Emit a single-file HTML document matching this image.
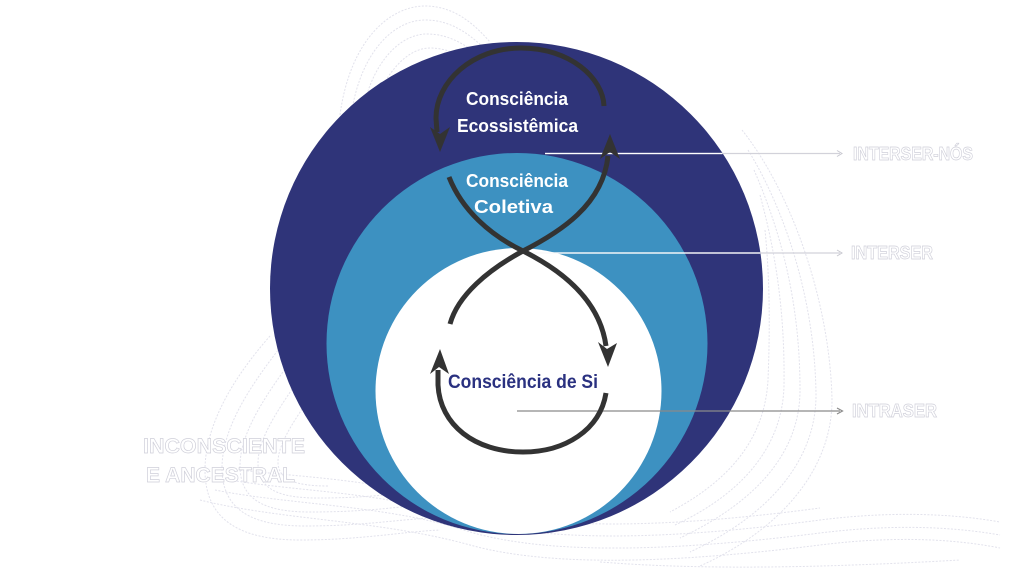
<!DOCTYPE html>
<html>
<head>
<meta charset="utf-8">
<style>
  html,body{margin:0;padding:0;background:#ffffff;}
  svg{display:block;}
  .lbl{font-family:"Liberation Sans",sans-serif;font-weight:bold;fill:#ffffff;stroke:#d0d0da;stroke-width:0.7;}
  .in{font-family:"Liberation Sans",sans-serif;font-weight:bold;fill:#ffffff;}
  .bg{fill:none;stroke:#e2e2ec;stroke-width:1;stroke-dasharray:2 1.5;}
</style>
</head>
<body>
<svg width="1024" height="576" viewBox="0 0 1024 576" xmlns="http://www.w3.org/2000/svg">
  <!-- faint background contour lines -->
  <g class="bg">
    <path d="M340,115 C350,40 390,6 425,6 C455,6 475,25 490,42"/>
    <path d="M352,110 C362,50 395,20 425,20 C452,20 470,35 484,48"/>
    <path d="M364,105 C374,62 400,34 427,34 C450,34 466,46 478,54"/>
    <path d="M376,100 C386,75 406,48 430,48 C448,48 460,56 470,60"/>
    <path d="M742,130 C790,190 830,300 832,400 C832,470 780,530 700,566"/>
    <path d="M748,150 C785,210 815,300 816,395 C816,460 770,515 690,552"/>
    <path d="M754,170 C780,230 800,300 800,390 C800,450 760,500 680,538"/>
    <path d="M760,195 C775,250 785,310 784,385 C783,440 750,490 675,525"/>
    <path d="M765,230 C770,280 770,330 768,380 C765,430 740,475 670,512"/>
    <path d="M200,500 C280,520 380,520 470,545 C560,570 700,560 820,545 C900,535 960,540 1000,548"/>
    <path d="M215,490 C290,505 390,505 470,532 C560,558 700,548 820,533 C900,523 960,528 1000,535"/>
    <path d="M230,480 C300,492 390,492 470,520 C560,546 700,536 820,520 C900,510 960,515 1000,522"/>
    <path d="M240,470 C310,478 390,480 470,508 C560,534 700,524 820,508"/>
    <path d="M600,562 C700,570 820,568 960,560"/>
    <path d="M270,336 C240,370 205,420 205,470 C205,520 240,540 300,540 C360,540 400,532 440,530"/>
    <path d="M282,345 C255,380 222,425 222,468 C222,510 252,526 305,526 C360,526 395,520 430,518"/>
    <path d="M295,355 C270,390 240,430 240,466 C240,500 265,512 310,512 C360,512 390,508 420,505"/>
    <path d="M308,366 C285,400 258,435 258,463 C258,490 280,498 318,498 C360,498 385,495 410,492"/>
    <path d="M322,380 C302,410 278,440 278,462 C278,480 296,486 328,486"/>
  </g>

  <circle cx="516.5" cy="288.5" r="246.5" fill="#2f3479"/>
  <circle cx="517" cy="343.5" r="190.5" fill="#3d91c1"/>
  <circle cx="518.5" cy="391" r="143" fill="#ffffff"/>

  <line x1="545" y1="153.5" x2="840" y2="153.5" stroke="#d2d2da" stroke-width="1.2"/>
  <line x1="545" y1="153.5" x2="722" y2="153.5" stroke="#ffffff" stroke-width="1.2"/>
  <path d="M837,150.5 L842,153.5 L837,156.5" fill="none" stroke="#c8c8d0" stroke-width="1"/>

  <line x1="530" y1="253" x2="840" y2="253" stroke="#d2d2da" stroke-width="1.2"/>
  <line x1="530" y1="253" x2="760" y2="253" stroke="#ffffff" stroke-width="1.2"/>
  <path d="M837,250 L842,253 L837,256" fill="none" stroke="#c8c8d0" stroke-width="1"/>

  <line x1="517" y1="411" x2="840" y2="411" stroke="#8a8a8a" stroke-width="1.3"/>
  <path d="M837,408 L842.5,411 L837,414" fill="none" stroke="#8a8a8a" stroke-width="1.2"/>

  <g fill="none" stroke="#333333" stroke-width="5" stroke-linecap="butt">
    <path d="M604,106 C603,78 570,48 521,48 C472,48 436,82 436,118 L437,132"/>
    <path d="M449,177 C462,210 490,235 523,251 C565,272 600,302 606,346"/>
    <path d="M608,156 C603,205 560,232 523,251 C488,270 458,295 450,324"/>
    <path d="M606,393 C600,430 565,452 523,452 C475,452 440,425 438,385 L438,370"/>
  </g>
  <g fill="#333333">
    <path d="M440,152 L430,127 L440,134 L450,127 Z"/>
    <path d="M610,134 L600,159 L610,152 L620,159 Z"/>
    <path d="M608,367 L598,342 L607,349 L617,343 Z"/>
    <path d="M440,349 L430,374 L439,367 L449,374 Z"/>
  </g>

  <text class="in" x="466" y="105" font-size="18" textLength="102" lengthAdjust="spacingAndGlyphs">Consciência</text>
  <text class="in" x="457" y="132" font-size="18" textLength="121" lengthAdjust="spacingAndGlyphs">Ecossistêmica</text>
  <text class="in" x="466" y="187" font-size="18" textLength="102" lengthAdjust="spacingAndGlyphs">Consciência</text>
  <text class="in" x="474" y="213" font-size="18" textLength="79" lengthAdjust="spacingAndGlyphs">Coletiva</text>
  <text x="448" y="388" font-family="Liberation Sans, sans-serif" font-weight="bold" font-size="19" fill="#2a3180" textLength="150" lengthAdjust="spacingAndGlyphs">Consciência de Si</text>

  <text class="lbl" x="853" y="160" font-size="18" textLength="120" lengthAdjust="spacingAndGlyphs">INTERSER-NÓS</text>
  <text class="lbl" x="851" y="259" font-size="18" textLength="82" lengthAdjust="spacingAndGlyphs">INTERSER</text>
  <text class="lbl" x="852" y="417" font-size="18" textLength="85" lengthAdjust="spacingAndGlyphs">INTRASER</text>
  <text class="lbl" x="143" y="453" font-size="21" textLength="162" lengthAdjust="spacingAndGlyphs">INCONSCIENTE</text>
  <text class="lbl" x="146" y="482" font-size="21" textLength="149" lengthAdjust="spacingAndGlyphs">E ANCESTRAL</text>
</svg>
</body>
</html>
